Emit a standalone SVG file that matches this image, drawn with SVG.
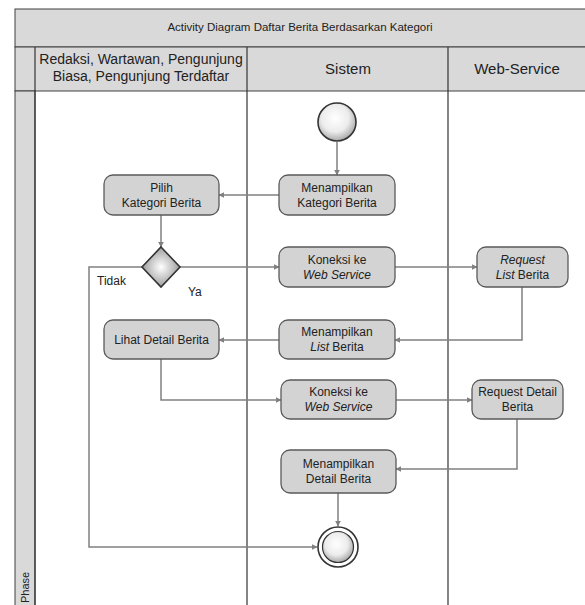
<svg xmlns="http://www.w3.org/2000/svg" width="585" height="605" viewBox="0 0 585 605">
<style>
.band{fill:#d9d9d9;stroke:#404040;stroke-width:1}
.lane{stroke:#333;stroke-width:1.2;fill:none}
.box{fill:#d3d3d3;stroke:#5a5a5a;stroke-width:1.3}
.t{font-family:"Liberation Sans Narrow","Liberation Sans",Arial,sans-serif;fill:#222;text-anchor:middle}
.bt{font-size:12px}
.hd{font-size:15px}
.con{fill:none;stroke:#808080;stroke-width:1.5;marker-end:url(#ah)}
.it{font-style:italic}
</style>
<defs>
<marker id="ah" viewBox="0 0 10 10" refX="9" refY="5" markerWidth="6" markerHeight="6" markerUnits="userSpaceOnUse" orient="auto">
<path d="M0,0 L10,5 L0,10 z" fill="#808080"/>
</marker>
<radialGradient id="cg" cx="0.45" cy="0.4" r="0.6">
<stop offset="0" stop-color="#ffffff"/>
<stop offset="0.6" stop-color="#ececec"/>
<stop offset="1" stop-color="#a8a8a8"/>
</radialGradient>
<radialGradient id="dg" cx="0.5" cy="0.5" r="0.6">
<stop offset="0" stop-color="#ffffff"/>
<stop offset="1" stop-color="#8a8a8a"/>
</radialGradient>
</defs>
<rect width="585" height="605" fill="#fff"/>
<g id="frame">
<rect class="band" x="15" y="9" width="575" height="38"/>
<rect class="band" x="15" y="47" width="575" height="44"/>
<rect x="15" y="91" width="20" height="520" fill="#d9d9d9" stroke="#404040" stroke-width="1"/>
<line class="lane" x1="35" y1="47" x2="35" y2="605"/>
<line class="lane" x1="247" y1="47" x2="247" y2="605"/>
<line class="lane" x1="448" y1="47" x2="448" y2="605"/>
<text class="t" x="300" y="31" font-size="11.5">Activity Diagram Daftar Berita Berdasarkan Kategori</text>
<text class="t" x="141" y="64" font-size="14">Redaksi, Wartawan, Pengunjung</text>
<text class="t" x="141" y="81" font-size="14">Biasa, Pengunjung Terdaftar</text>
<text class="t hd" x="348" y="74">Sistem</text>
<text class="t hd" x="517" y="74">Web-Service</text>
<text class="t" x="0" y="0" font-size="11" text-anchor="start" transform="translate(29,603) rotate(-90)" style="text-anchor:start">Phase</text>
</g>
<g id="connectors">
<path id="c1" class="con" d="M337,142 V175"/>
<path id="c2" class="con" d="M279,195 H219"/>
<path id="c3" class="con" d="M161,215 V247"/>
<path id="c4" class="con" d="M180,267 H279"/>
<path id="c5" class="con" d="M395,267 H477"/>
<path id="c6" class="con" d="M522,287 V340 H395"/>
<path id="c7" class="con" d="M279,340 H219"/>
<path id="c8" class="con" d="M161,359 V400 H281"/>
<path id="c9" class="con" d="M396,400 H472"/>
<path id="c10" class="con" d="M517,419 V469 H396"/>
<path id="c11" class="con" d="M338,493 V526"/>
<path id="c12" class="con" d="M142,267 H89 V547 H317"/>
<text class="t" x="97" y="285" font-size="12" style="text-anchor:start">Tidak</text>
<text class="t" x="188" y="296" font-size="12" style="text-anchor:start">Ya</text>
</g>
<g id="start"><circle cx="337" cy="122" r="19" fill="url(#cg)" stroke="#333" stroke-width="1.6"/></g>
<g id="pilih"><rect class="box" x="104" y="175" width="115" height="40" rx="9"/>
<text class="t bt" x="161.5" y="192">Pilih</text><text class="t bt" x="161.5" y="207">Kategori Berita</text></g>
<g id="menampilkanKategori"><rect class="box" x="279" y="175" width="116" height="40" rx="9"/>
<text class="t bt" x="337" y="192">Menampilkan</text><text class="t bt" x="337" y="207">Kategori Berita</text></g>
<g id="decision"><path d="M161,247 L180,267 L161,287 L142,267 Z" fill="url(#dg)" stroke="#333" stroke-width="1.6"/></g>
<g id="koneksi1"><rect class="box" x="279" y="247" width="116" height="40" rx="9"/>
<text class="t bt" x="337" y="264">Koneksi ke</text><text class="t bt it" x="337" y="279">Web Service</text></g>
<g id="requestList"><rect class="box" x="477" y="247" width="91" height="40" rx="9"/>
<text class="t bt it" x="522.5" y="264">Request</text><text class="t bt" x="522.5" y="279"><tspan class="it">List</tspan> Berita</text></g>
<g id="menampilkanList"><rect class="box" x="279" y="320" width="116" height="39" rx="9"/>
<text class="t bt" x="337" y="336">Menampilkan</text><text class="t bt" x="337" y="351"><tspan class="it">List</tspan> Berita</text></g>
<g id="lihatDetail"><rect class="box" x="104" y="320" width="115" height="39" rx="9"/>
<text class="t bt" x="161.5" y="344">Lihat Detail Berita</text></g>
<g id="koneksi2"><rect class="box" x="281" y="380" width="115" height="39" rx="9"/>
<text class="t bt" x="338.5" y="396">Koneksi ke</text><text class="t bt it" x="338.5" y="411">Web Service</text></g>
<g id="requestDetail"><rect class="box" x="472" y="380" width="91" height="39" rx="9"/>
<text class="t bt" x="517.5" y="396">Request Detail</text><text class="t bt" x="517.5" y="411">Berita</text></g>
<g id="menampilkanDetail"><rect class="box" x="281" y="450" width="115" height="43" rx="9"/>
<text class="t bt" x="338.5" y="468">Menampilkan</text><text class="t bt" x="338.5" y="483">Detail Berita</text></g>
<g id="end"><circle cx="338" cy="547" r="20" fill="#fff" stroke="#333" stroke-width="1.6"/>
<circle cx="338" cy="547" r="15.5" fill="url(#cg)" stroke="#333" stroke-width="1.2"/></g>
</svg>
